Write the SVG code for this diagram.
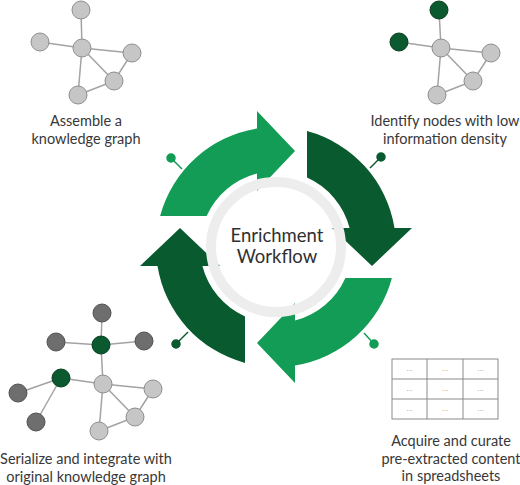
<svg xmlns="http://www.w3.org/2000/svg" width="520" height="485" viewBox="0 0 520 485">
<style>
.lbl{font-family:Lato,"Open Sans","Liberation Sans",sans-serif;font-size:14.5px;fill:#383838;text-anchor:middle}
.ctr{font-family:Lato,"Open Sans","Liberation Sans",sans-serif;font-size:18.5px;fill:#303030;text-anchor:middle}
.e{stroke:#a3a3a3;stroke-width:1.5;fill:none}
.nl{fill:#c6c6c6;stroke:#8e8e8e;stroke-width:1}
.nd{fill:#6e6e6e;stroke:#505050;stroke-width:1}
.ng{fill:#0b5a2f;stroke:#063f20;stroke-width:1}
.aL{fill:#129c55}
.aD{fill:#0a5a30}
.pL{stroke:#129c55;fill:#129c55;stroke-width:1.5}
.pD{stroke:#0a5a30;fill:#0a5a30;stroke-width:1.5}
.cell{fill:#fff;stroke:#8a8a8a;stroke-width:1}
.dots{font-family:"Liberation Sans",sans-serif;font-size:8px;fill:#999;text-anchor:middle}
</style>
<defs>
<path id="arw" d="M307,131.1 A120,120 0 0 1 394.5,228 L412,228 L372,266 L332,228 L349.6,228 A76,76 0 0 0 307,177.6 Z"/>
</defs>
<rect width="520" height="485" fill="#fff"/>

<g id="connectors">
<use href="#arw" class="aD"/>
<use href="#arw" class="aL" transform="rotate(90 276 247)"/>
<use href="#arw" class="aD" transform="rotate(180 276 247)"/>
<use href="#arw" class="aL" transform="rotate(270 276 247)"/>
<g class="pL"><line x1="182" y1="169" x2="171" y2="158"/><circle cx="171" cy="158" r="4"/></g>
<g class="pD"><line x1="370" y1="168" x2="381" y2="157"/><circle cx="381" cy="157" r="4"/></g>
<g class="pL"><line x1="364" y1="333" x2="374" y2="344"/><circle cx="374" cy="344" r="4"/></g>
<g class="pD"><line x1="188" y1="332" x2="176" y2="344"/><circle cx="176" cy="344" r="4"/></g>
</g>

<g id="center">
<circle cx="276" cy="247" r="65" fill="none" stroke="#ededed" stroke-width="10"/>
<text class="ctr" x="277" y="242">Enrichment</text>
<text class="ctr" x="277" y="263">Workflow</text>
</g>

<g id="assemble">
<g class="e">
<line x1="81" y1="10" x2="82" y2="48"/><line x1="40" y1="42" x2="82" y2="48"/>
<line x1="82" y1="48" x2="132" y2="53"/><line x1="82" y1="48" x2="114" y2="81"/>
<line x1="132" y1="53" x2="114" y2="81"/><line x1="82" y1="48" x2="78" y2="95"/>
<line x1="78" y1="95" x2="114" y2="81"/>
</g>
<circle class="nl" cx="81" cy="10" r="9"/><circle class="nl" cx="40" cy="42" r="9"/>
<circle class="nl" cx="82" cy="48" r="9"/><circle class="nl" cx="132" cy="53" r="9"/>
<circle class="nl" cx="114" cy="81" r="9"/><circle class="nl" cx="78" cy="95" r="9"/>
<text class="lbl" x="86" y="126">Assemble a</text>
<text class="lbl" x="86" y="144">knowledge graph</text>
</g>

<g id="identify">
<g class="e">
<line x1="439" y1="10" x2="441" y2="48"/><line x1="399" y1="42" x2="441" y2="48"/>
<line x1="441" y1="48" x2="491" y2="53"/><line x1="441" y1="48" x2="473" y2="81"/>
<line x1="491" y1="53" x2="473" y2="81"/><line x1="441" y1="48" x2="437" y2="95"/>
<line x1="437" y1="95" x2="473" y2="81"/>
</g>
<circle class="ng" cx="439" cy="10" r="9"/><circle class="ng" cx="399" cy="42" r="9"/>
<circle class="nl" cx="441" cy="48" r="9"/><circle class="nl" cx="491" cy="53" r="9"/>
<circle class="nl" cx="473" cy="81" r="9"/><circle class="nl" cx="437" cy="95" r="9"/>
<text class="lbl" x="445" y="126">Identify nodes with low</text>
<text class="lbl" x="445" y="144">information density</text>
</g>

<g id="acquire">
<rect class="cell" x="392" y="359" width="106" height="60"/>
<g class="e" style="stroke:#8a8a8a;stroke-width:1">
<line x1="392" y1="379" x2="498" y2="379"/><line x1="392" y1="399" x2="498" y2="399"/>
<line x1="427" y1="359" x2="427" y2="419"/><line x1="463" y1="359" x2="463" y2="419"/>
</g>
<g class="dots">
<text x="409.5" y="371">...</text><text x="445" y="371">...</text><text x="480.5" y="371">...</text>
<text x="409.5" y="391">...</text><text x="445" y="391">...</text><text x="480.5" y="391">...</text>
<text x="409.5" y="411">...</text><text x="445" y="411">...</text><text x="480.5" y="411">...</text>
</g>
<text class="lbl" x="451" y="446">Acquire and curate</text>
<text class="lbl" x="451" y="463.5">pre-extracted content</text>
<text class="lbl" x="451" y="481">in spreadsheets</text>
</g>

<g id="serialize">
<g class="e">
<line x1="102" y1="313" x2="101" y2="345"/><line x1="56" y1="342" x2="101" y2="345"/>
<line x1="101" y1="345" x2="144" y2="341"/><line x1="101" y1="345" x2="103" y2="384"/>
<line x1="61" y1="378" x2="103" y2="384"/><line x1="61" y1="378" x2="18" y2="393"/>
<line x1="61" y1="378" x2="36" y2="422"/>
<line x1="103" y1="384" x2="153" y2="389"/><line x1="103" y1="384" x2="135" y2="417"/>
<line x1="153" y1="389" x2="135" y2="417"/><line x1="103" y1="384" x2="99" y2="431"/>
<line x1="99" y1="431" x2="135" y2="417"/>
</g>
<circle class="nd" cx="102" cy="313" r="9"/><circle class="nd" cx="56" cy="342" r="9"/>
<circle class="nd" cx="144" cy="341" r="9"/><circle class="ng" cx="101" cy="345" r="9"/>
<circle class="ng" cx="61" cy="378" r="9"/><circle class="nd" cx="18" cy="393" r="9"/>
<circle class="nd" cx="36" cy="422" r="9"/>
<circle class="nl" cx="103" cy="384" r="9"/><circle class="nl" cx="153" cy="389" r="9"/>
<circle class="nl" cx="135" cy="417" r="9"/><circle class="nl" cx="99" cy="431" r="9"/>
<text class="lbl" x="86" y="464">Serialize and integrate with</text>
<text class="lbl" x="86" y="481.5">original knowledge graph</text>
</g>
</svg>
